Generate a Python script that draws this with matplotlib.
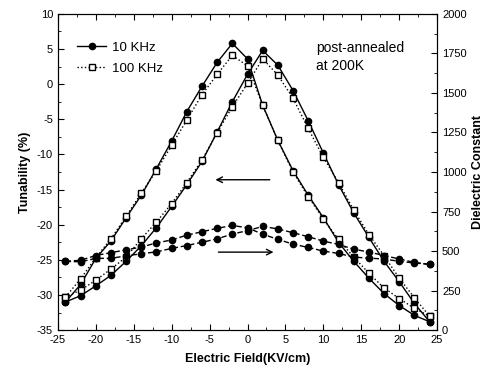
import numpy as np
import matplotlib
matplotlib.use("Agg")
import matplotlib.pyplot as plt
from matplotlib.ticker import MultipleLocator

plt.rcParams['font.family'] = ['Liberation Sans', 'DejaVu Sans']
plt.rcParams['axes.unicode_minus'] = False

field = np.arange(-24, 25, 2)

# tunability, branch peaking at -2 KV/cm
tun_a_10k = [-31.0, -28.5, -24.8, -22.3, -19.0, -15.8, -12.0, -8.1, -3.9, -0.3, 3.1, 5.8, 3.6,
             -3.0, -8.0, -12.3, -15.8, -19.0, -22.5, -25.2, -27.6, -29.8, -31.5, -32.9, -33.8]
tun_a_100k = [-30.3, -27.7, -24.7, -22.0, -18.8, -15.5, -12.3, -8.7, -5.1, -1.5, 1.4, 4.1, 2.6,
              -3.0, -8.0, -12.5, -16.0, -19.2, -22.1, -24.6, -26.9, -29.0, -30.5, -31.9, -33.0]
# tunability, branch peaking at +2 KV/cm
tun_b_10k = [-31.0, -30.1, -28.7, -27.2, -25.2, -23.0, -20.4, -17.4, -14.3, -11.0, -6.8, -2.5, 1.4,
             4.8, 2.7, -0.9, -5.2, -9.8, -14.3, -18.3, -21.8, -25.2, -28.1, -31.2, -33.8]
tun_b_100k = [-30.3, -29.3, -27.9, -26.3, -24.6, -22.0, -19.6, -17.0, -14.0, -10.8, -6.9, -3.2, 0.1,
              3.6, 1.3, -2.0, -6.3, -10.4, -14.0, -17.9, -21.4, -24.4, -27.6, -30.4, -33.0]

# dielectric constant
eps_c = [435, 442, 472, 490, 508, 525, 552, 570, 601, 622, 644, 662, 647,
         607, 574, 544, 523, 500, 485, 462, 455, 450, 435, 425, 416]
eps_d = [435, 432, 454, 454, 470, 483, 495, 517, 535, 556, 577, 608, 629,
         656, 640, 616, 591, 563, 542, 512, 494, 472, 450, 428, 416]

fig = plt.figure(figsize=(4.99, 3.76), dpi=100)
ax1 = fig.add_axes([0.116, 0.122, 0.760, 0.841])

l1, = ax1.plot(field, tun_a_10k, '-', color='black', lw=1, marker='o', ms=4.5, mfc='black')
ax1.plot(field, tun_b_10k, '-', color='black', lw=1, marker='o', ms=4.5, mfc='black')
l2, = ax1.plot(field, tun_a_100k, ':', color='black', lw=1, marker='s', ms=4.5, mfc='white')
ax1.plot(field, tun_b_100k, ':', color='black', lw=1, marker='s', ms=4.5, mfc='white')

ax1.set_xlim(-25, 25)
ax1.set_ylim(-35, 10)
ax1.xaxis.set_major_locator(MultipleLocator(5))
ax1.xaxis.set_minor_locator(MultipleLocator(2.5))
ax1.yaxis.set_major_locator(MultipleLocator(5))
ax1.yaxis.set_minor_locator(MultipleLocator(2.5))
ax1.tick_params(which='both', direction='in', labelsize=8, top=True)
ax1.tick_params(which='major', length=4)
ax1.tick_params(which='minor', length=2)
ax1.set_xlabel('Electric Field(KV/cm)', fontsize=9, fontweight='bold', labelpad=6)
ax1.set_ylabel('Tunability (%)', fontsize=9, fontweight='bold')

ax2 = ax1.twinx()
ax2.plot(field, eps_c, '--', color='black', lw=1, marker='o', ms=4.5, mfc='black', dashes=(4, 2))
ax2.plot(field, eps_d, '--', color='black', lw=1, marker='o', ms=4.5, mfc='black', dashes=(4, 2))
ax2.set_ylim(0, 2000)
ax2.yaxis.set_major_locator(MultipleLocator(250))
ax2.yaxis.set_minor_locator(MultipleLocator(125))
ax2.tick_params(which='both', direction='in', labelsize=8)
ax2.tick_params(which='major', length=4)
ax2.tick_params(which='minor', length=2)
ax2.set_ylabel('Dielectric Constant', fontsize=9, fontweight='bold')

ax1.legend([l1, l2], ['10 KHz', '100 KHz'], loc='upper left', bbox_to_anchor=(0.02, 0.95),
           frameon=False, fontsize=9.5, handlelength=2.2, handletextpad=0.4, labelspacing=0.65)

ax1.text(0.68, 0.915, 'post-annealed\nat 200K', transform=ax1.transAxes, fontsize=10,
         va='top', ha='left', linespacing=1.35)

ax1.annotate('', xy=(-4.6, -13.6), xytext=(3.3, -13.6),
             arrowprops=dict(arrowstyle='->', color='black', lw=1))
ax2.annotate('', xy=(3.8, (-23.9 + 35) / 45 * 2000), xytext=(-4.2, (-23.9 + 35) / 45 * 2000),
             arrowprops=dict(arrowstyle='->', color='black', lw=1))

fig.savefig('out.png', dpi=100)
